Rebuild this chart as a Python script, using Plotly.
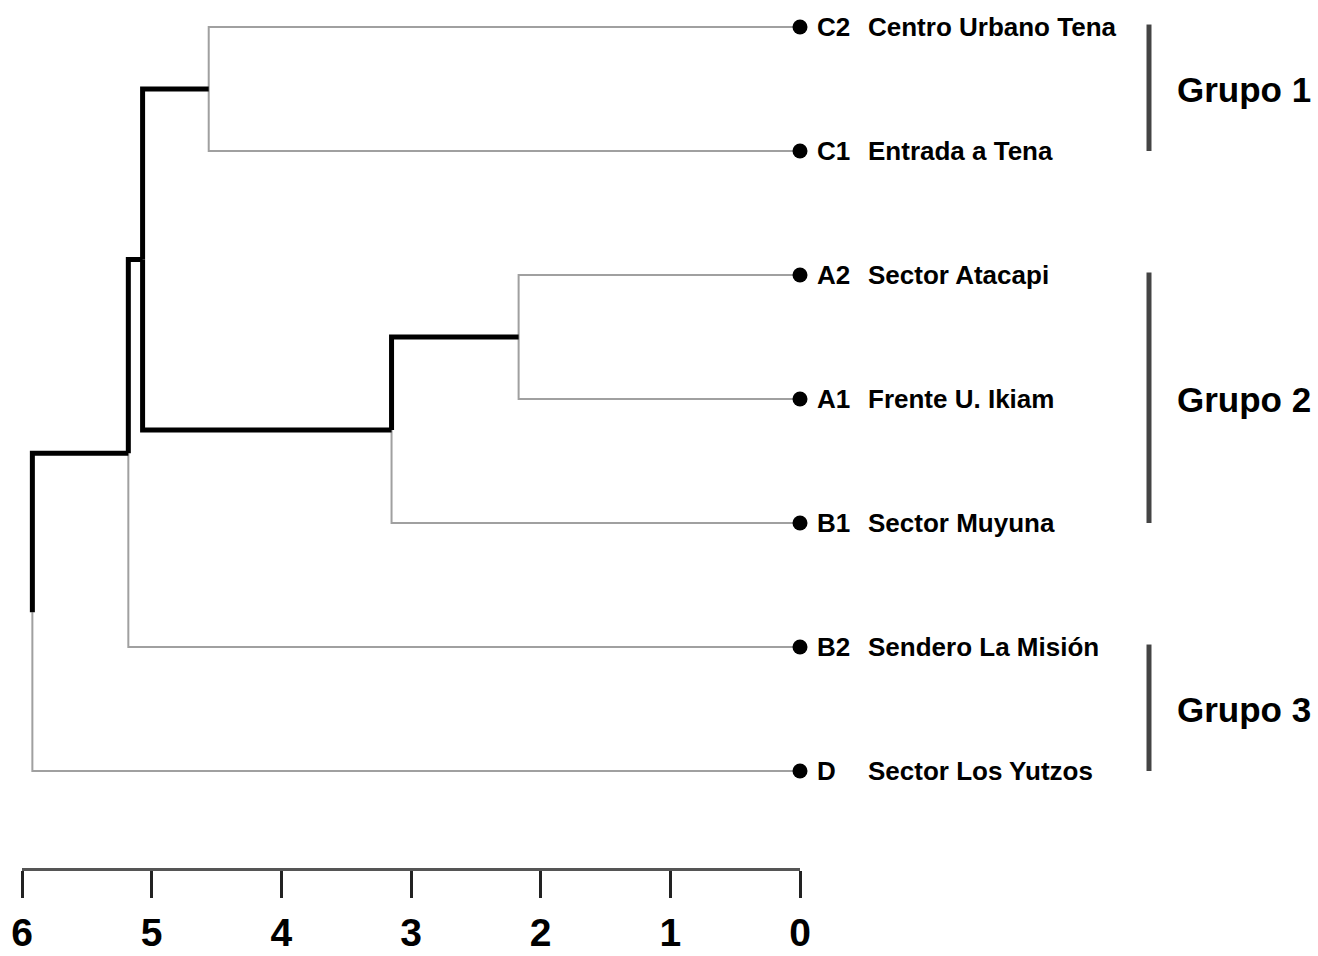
import plotly.graph_objects as go

# ---------------- data ----------------
leaf_codes = ["C2", "C1", "A2", "A1", "B1", "B2", "D"]
leaf_names = ["Centro Urbano Tena", "Entrada a Tena", "Sector Atacapi",
              "Frente U. Ikiam", "Sector Muyuna", "Sendero La Misión",
              "Sector Los Yutzos"]
# merges: (left child id, right child id, height); leaves are ids 0..6
merge_left = [2, 7, 0, 9, 10, 11]
merge_right = [3, 4, 1, 8, 5, 6]
merge_height = [2.17, 3.15, 4.56, 5.07, 5.18, 5.92]
# (parent id, child id) links drawn bold
bold_links = [(12, 11), (11, 10), (10, 9), (10, 8), (8, 7)]
group_names = ["Grupo 1", "Grupo 2", "Grupo 3"]
group_first = [0, 2, 5]
group_last = [1, 4, 6]
tick_values = [6, 5, 4, 3, 2, 1, 0]

# ---------------- geometry from tree ----------------
n = len(leaf_codes)
node_x = {i: 0.0 for i in range(n)}
node_y = {i: float(i) for i in range(n)}
thin_x, thin_y, bold_x, bold_y = [], [], [], []
for k, (a, b, h) in enumerate(zip(merge_left, merge_right, merge_height)):
    p = n + k
    node_x[p] = h
    node_y[p] = (node_y[a] + node_y[b]) / 2
    for c in (a, b):
        xs = [h, h, node_x[c], None]
        ys = [node_y[p], node_y[c], node_y[c], None]
        if (p, c) in bold_links:
            bold_x += xs; bold_y += ys
        else:
            thin_x += xs; thin_y += ys

W, H = 1318, 956
px0, px6 = 800, 22          # pixel of value 0 and 6
kx = (px0 - px6) / 6.0
x_range = [6 + px6 / kx, 6 - (W - px6) / kx]
py0, dy = 27, 124           # pixel of leaf 0, leaf spacing
y_range = [(H - py0) / dy, -py0 / dy]

FONT = "Liberation Sans, Arial, sans-serif"

fig = go.Figure()
fig.add_trace(go.Scatter(x=thin_x, y=thin_y, mode="lines",
                         line=dict(color="#a0a0a0", width=2),
                         hoverinfo="skip", showlegend=False))
fig.add_trace(go.Scatter(x=bold_x, y=bold_y, mode="lines",
                         line=dict(color="#000000", width=5),
                         hoverinfo="skip", showlegend=False))
fig.add_trace(go.Scatter(x=[node_x[i] for i in range(n)],
                         y=[node_y[i] for i in range(n)], mode="markers",
                         marker=dict(color="black", size=15),
                         hoverinfo="skip", showlegend=False))
# invisible trace for the scale axis
fig.add_trace(go.Scatter(x=tick_values, y=[0] * len(tick_values), xaxis="x2",
                         yaxis="y2", mode="markers", marker=dict(opacity=0),
                         hoverinfo="skip", showlegend=False))

lab_font = dict(family=FONT, size=26, color="black")
annotations = []
for i in range(n):
    annotations.append(dict(x=0, y=node_y[i], xref="x", yref="y",
                            text="<b>%s</b>" % leaf_codes[i], showarrow=False,
                            xanchor="left", yanchor="middle", xshift=15,
                            font=lab_font))
    annotations.append(dict(x=0, y=node_y[i], xref="x", yref="y",
                            text="<b>%s</b>" % leaf_names[i], showarrow=False,
                            xanchor="left", yanchor="middle", xshift=66,
                            font=lab_font))

shapes = []
bar_x = 1149 / W
for g, a, b in zip(group_names, group_first, group_last):
    shapes.append(dict(type="line", xref="paper", yref="y", x0=bar_x, x1=bar_x,
                       y0=a - 0.02, y1=b, line=dict(color="#444444", width=5)))
    annotations.append(dict(x=1175 / W, y=(a + b) / 2, xref="paper", yref="y",
                            text="<b>%s</b>" % g, showarrow=False,
                            xanchor="left", yanchor="middle",
                            font=dict(family=FONT, size=35, color="black")))

axis_py = 868
fig.update_layout(
    width=W, height=H, margin=dict(l=0, r=0, t=0, b=0, autoexpand=False),
    paper_bgcolor="white", plot_bgcolor="white", showlegend=False,
    xaxis=dict(range=x_range, visible=False, domain=[0, 1], automargin=False),
    yaxis=dict(range=y_range, visible=False, domain=[0, 1], automargin=False),
    xaxis2=dict(domain=[px6 / W, px0 / W], range=[6, 0], anchor="y2",
                automargin=False,
                showline=True, linecolor="#555555", linewidth=3,
                ticks="outside", ticklen=27, tickwidth=2.5, tickcolor="#222222",
                tickvals=tick_values,
                ticktext=["<b>%d</b>" % v for v in tick_values],
                ticklabelstandoff=1,
                tickfont=dict(family=FONT, size=39, color="black"),
                showgrid=False, zeroline=False),
    yaxis2=dict(domain=[(H - axis_py) / H, (H - axis_py) / H + 0.01],
                visible=False, range=[0, 1], automargin=False),
    annotations=annotations, shapes=shapes,
)
fig.write_html("out.html", config={"displayModeBar": False},
               post_script="document.body.style.margin='0';"
                           "document.body.style.overflow='hidden';")
